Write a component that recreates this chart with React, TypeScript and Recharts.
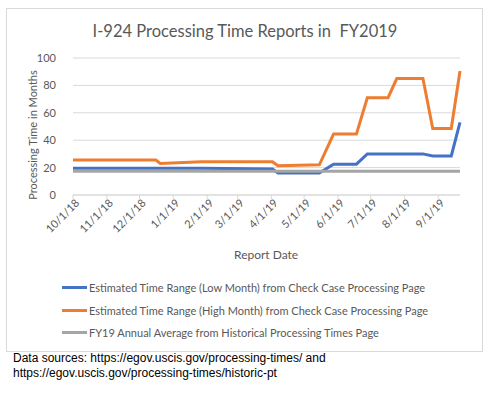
import { CartesianGrid, Line, LineChart, XAxis, YAxis } from "recharts";

// report dates (irregular)
const reportDates = [
  "2018-10-01", "2018-12-16", "2018-12-20", "2019-01-27", "2019-04-02", "2019-04-07",
  "2019-05-15", "2019-05-28", "2019-06-18", "2019-06-28", "2019-07-17", "2019-07-25",
  "2019-08-18", "2019-08-27", "2019-09-13", "2019-09-21",
];
const lowMonth = [19.5, 19.5, 19.5, 19.5, 19, 16, 16, 22.5, 22.5, 30, 30, 30, 30, 28.5, 28.5, 53];
const highMonth = [25.5, 25.5, 23, 24.3, 24.3, 21.3, 22, 44.5, 44.5, 71, 71, 85, 85, 48.5, 48.5, 90.5];
const annualAvg = [17.3, 17.3, 17.3, 17.3, 17.3, 17.3, 17.3, 17.3, 17.3, 17.3, 17.3, 17.3, 17.3, 17.3, 17.3, 17.3];

const monthTicks = [
  "2018-10-01", "2018-11-01", "2018-12-01", "2019-01-01", "2019-02-01", "2019-03-01",
  "2019-04-01", "2019-05-01", "2019-06-01", "2019-07-01", "2019-08-01", "2019-09-01",
];
const yTicks = [0, 10, 20, 30, 40, 50, 60, 70, 80, 90, 100];

const seriesNames = [
  "Estimated Time Range (Low Month) from Check Case Processing Page",
  "Estimated Time Range (High Month) from Check Case Processing Page",
  "FY19 Annual Average from Historical Processing Times Page",
];
const seriesColors = ["#4472C4", "#ED7D31", "#A5A5A5"];

const toTime = (d: string) => {
  const [y, m, day] = d.split("-").map(Number);
  return Date.UTC(y, m - 1, day);
};

const data = reportDates.map((d, i) => ({
  t: toTime(d),
  low: lowMonth[i],
  high: highMonth[i],
  avg: annualAvg[i],
}));

const fmtTick = (t: number) => {
  const d = new Date(t);
  return `${d.getUTCMonth() + 1}/${d.getUTCDate()}/${String(d.getUTCFullYear()).slice(2)}`;
};

const FONT = "Lato, 'Open Sans', sans-serif";
const TXT = "#595959";

function DateTick(props: any) {
  const { x, y, payload } = props;
  return (
    <g transform={`translate(${x},${y})`}>
      <text x={3} y={7} textAnchor="end" transform="rotate(-45)" fontSize={11} fill={TXT} fontFamily={FONT}>
        {fmtTick(payload.value)}
      </text>
    </g>
  );
}

export default function App() {
  const keys = ["low", "high", "avg"];
  return (
    <div style={{ position: "absolute", left: 0, top: 0, width: 490, height: 396, background: "#fff" }}>
      <div style={{ position: "absolute", left: 6, top: 8, width: 477, height: 344, border: "1px solid #d9d9d9", boxSizing: "border-box" }} />
      <div style={{ position: "absolute", left: 0, top: 21, width: 490, textAlign: "center", fontFamily: FONT, fontSize: 16.5, color: TXT }}>
        I-924 Processing Time Reports in&nbsp; FY2019
      </div>
      <div style={{ position: "absolute", left: 32, top: 135, width: 0, height: 0 }}>
        <div style={{ position: "absolute", transform: "translate(-50%, -50%) rotate(-90deg)", whiteSpace: "nowrap", fontFamily: FONT, fontSize: 11, color: TXT }}>
          Processing Time in Months
        </div>
      </div>
      <div style={{ position: "absolute", left: 234, top: 247, fontFamily: FONT, fontSize: 12, color: TXT }}>Report Date</div>
      <div style={{ position: "absolute", left: 0, top: 0 }}>
        <LineChart width={490} height={396} data={data} margin={{ top: 58, right: 30, left: 0, bottom: 0 }}>
          <CartesianGrid vertical={false} stroke="#d9d9d9" />
          <XAxis
            dataKey="t"
            type="number"
            scale="time"
            domain={[toTime("2018-10-01"), toTime("2019-09-21")]}
            ticks={monthTicks.map(toTime)}
            tick={<DateTick />}
            height={201}
            stroke="#d9d9d9"
            tickSize={4}
            interval={0}
          />
          <YAxis
            width={73}
            domain={[0, 100]}
            ticks={yTicks}
            axisLine={false}
            tickLine={false}
            tickMargin={11}
            tick={{ fontSize: 11, fill: TXT, fontFamily: FONT }}
          />
          {keys.map((k, i) => (
            <Line
              key={k}
              type="linear"
              dataKey={k}
              name={seriesNames[i]}
              stroke={seriesColors[i]}
              strokeWidth={3}
              dot={false}
              isAnimationActive={false}
            />
          ))}
        </LineChart>
      </div>
      {seriesNames.map((n, i) => (
        <div key={n} style={{ position: "absolute", left: 62, top: 281 + i * 22.5, display: "flex", alignItems: "center", fontFamily: FONT, fontSize: 11, color: TXT, whiteSpace: "nowrap" }}>
          <span style={{ display: "inline-block", width: 25, height: 3, background: seriesColors[i], marginRight: 2 }} />
          {n}
        </div>
      ))}
      <div style={{ position: "absolute", left: 13, top: 351, fontFamily: "'Liberation Sans', Arial, sans-serif", fontSize: 12, lineHeight: "15px", color: "#000" }}>
        Data sources: https://egov.uscis.gov/processing-times/ and
        <br />
        https://egov.uscis.gov/processing-times/historic-pt
      </div>
    </div>
  );
}
